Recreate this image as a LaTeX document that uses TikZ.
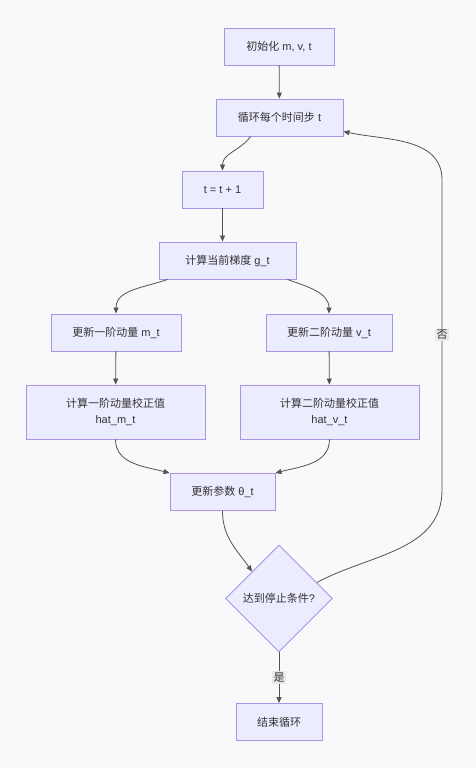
\documentclass[tikz,border=0pt]{standalone}
\usepackage{fontspec}
\setmainfont{Liberation Sans}
\newfontfamily\cjk{Noto Sans CJK SC}
\usepackage{xcolor}
\usetikzlibrary{
  arrows.meta,
  positioning,
  shapes.geometric
}
\definecolor{boxfill}{HTML}{ECECFF}
\definecolor{boxline}{HTML}{AB94E6}
\definecolor{inkgray}{HTML}{333333}
\definecolor{pagebg}{HTML}{F8F9FB}
\definecolor{lblfill}{HTML}{E9E9EA}

\begin{document}
\begin{tikzpicture}[
    x=1pt, y=1pt,
    every node/.style={font=\fontsize{11}{16}\selectfont, text=inkgray},
    proc/.style={draw=boxline, fill=boxfill, line width=0.9pt, align=center, inner sep=0pt, minimum height=37pt},
    decide/.style={draw=boxline, fill=boxfill, diamond, aspect=1, line width=0.9pt, inner sep=0pt, minimum width=107pt, minimum height=107pt},
    flow/.style={-{Triangle[length=6pt,width=5pt]}, inkgray!85, line width=0.8pt},
    lbl/.style={fill=lblfill, inner sep=1.5pt}
  ]
    % page
    \fill[pagebg] (0,0) rectangle (476,-768);
    \useasboundingbox (0,0) rectangle (476,-768);
    % main column
    \node[proc, minimum width=110pt] (init)  at (279,-46.5)   {{\cjk 初始化} m, v, t};
    \node[proc, minimum width=127pt] (loop)  at (279.5,-117.5) {{\cjk 循环每个时间步} t};
    \node[proc, minimum width=81pt]  (tinc)  at (222.5,-189.5) {t = t + 1};
    \node[proc, minimum width=137pt] (grad)  at (227.5,-260.5) {{\cjk 计算当前梯度} g\_t};
    % two moment branches
    \node[proc, minimum width=130pt] (mt)    at (116,-332.5)   {{\cjk 更新一阶动量} m\_t};
    \node[proc, minimum width=126pt] (vt)    at (329,-332.5)   {{\cjk 更新二阶动量} v\_t};
    \node[proc, minimum width=179pt, minimum height=54pt] (mhat) at (115.5,-412) {{\cjk 计算一阶动量校正值}\\hat\_m\_t};
    \node[proc, minimum width=179pt, minimum height=54pt] (vhat) at (329.5,-412) {{\cjk 计算二阶动量校正值}\\hat\_v\_t};
    % update and test
    \node[proc, minimum width=105pt] (param) at (222.5,-492)   {{\cjk 更新参数} θ\_t};
    \node[decide] (stop) at (279,-598.5) {{\cjk 达到停止条件}?};
    \node[proc, minimum width=86pt]  (done)  at (279,-722)     {\cjk 结束循环};
    % connectors
    \draw[flow] (init) -- (loop);
    \draw[flow] ([xshift=-29pt]loop.south) to[out=-125,in=90] (tinc.north);
    \draw[flow] (tinc.south) -- (tinc.south |- grad.north);
    \draw[flow] ([xshift=-60pt]grad.south) to[out=-160,in=90] (mt.north);
    \draw[flow] ([xshift=60pt]grad.south) to[out=-20,in=90] (vt.north);
    \draw[flow] (mt) -- (mhat);
    \draw[flow] (vt) -- (vhat);
    \draw[flow] (mhat.south) to[out=-90,in=165] (param.north west);
    \draw[flow] (vhat.south) to[out=-90,in=15] (param.north east);
    \draw[flow] (param.south) to[out=-90,in=125] (stop.north west);
    \draw[flow] (stop) -- node[lbl]{\cjk 是} (done);
    % back edge to the loop
    \coordinate (rlow) at (442,-490);
    \coordinate (rtop) at (442,-180);
    \draw[flow] (stop.23) to[out=28,in=-90] (rlow) -- node[lbl, pos=0.5]{\cjk 否} (rtop)
      to[out=90,in=-12] ([yshift=-14pt]loop.east);
\end{tikzpicture}
\end{document}
